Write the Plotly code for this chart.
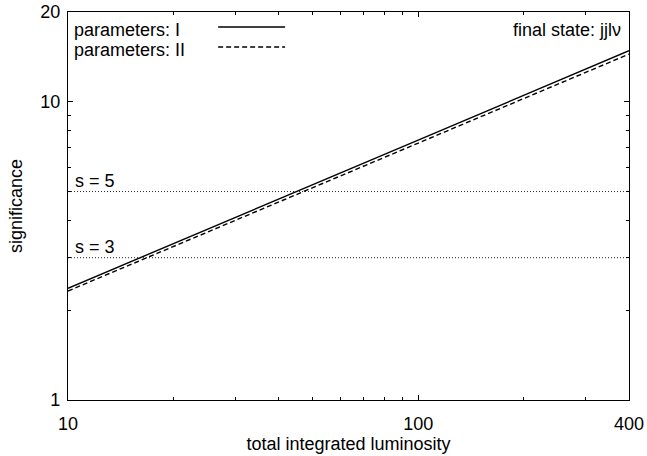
import plotly.graph_objects as go
import math

# ---- data ----
luminosity = [10, 20, 50, 100, 200, 400]
sig_I = [2.37, 3.35, 5.27, 7.44, 10.50, 14.83]
sig_II = [2.32, 3.27, 5.15, 7.26, 10.25, 14.45]
thresholds = [5, 3]
threshold_labels = ["s = 5", "s = 3"]
series_names = ["parameters: I", "parameters: II"]
x_tickvals = [10, 100, 400]
x_ticktext = ["10", "100", "400"]
x_minor = [20, 30, 40, 50, 60, 70, 80, 90, 200, 300]
y_tickvals = [1, 10, 20]
y_ticktext = ["1", "10", "20"]
y_minor = [2, 3, 4, 5, 6, 7, 8, 9]
x_title = "total integrated luminosity"
y_title = "significance"
corner_label = "final state: jjlν"

FONT = "Liberation Sans, Arial, Helvetica, sans-serif"
FS = 18

fig = go.Figure()

# threshold dotted lines
for t in thresholds:
    fig.add_trace(go.Scatter(
        x=[luminosity[0], luminosity[-1]], y=[t, t], mode="lines",
        line=dict(color="#222222", width=1, dash="1px,2px"),
        showlegend=False, hoverinfo="skip"))

fig.add_trace(go.Scatter(x=luminosity, y=sig_I, mode="lines", name=series_names[0],
                         line=dict(color="black", width=1.4), showlegend=False))
fig.add_trace(go.Scatter(x=luminosity, y=sig_II, mode="lines", name=series_names[1],
                         line=dict(color="black", width=1.4, dash="5px,3px"), showlegend=False))

annotations = []
for t, lab in zip(thresholds, threshold_labels):
    annotations.append(dict(x=math.log10(luminosity[0]), y=math.log10(t), xref="x", yref="y",
                            text=lab, showarrow=False, xanchor="left", yanchor="bottom",
                            xshift=5, yshift=-1, font=dict(family=FONT, size=FS, color="black")))

# legend (gnuplot-style: text left, sample right)
leg_text_y = [0.9544, 0.9029]
leg_line_y = [0.9614, 0.9098]
for name, ty in zip(series_names, leg_text_y):
    annotations.append(dict(x=0.008, y=ty, xref="paper", yref="paper", text=name,
                            showarrow=False, xanchor="left", yanchor="middle",
                            font=dict(family=FONT, size=FS, color="black")))
annotations.append(dict(x=0.99, y=0.9531, xref="paper", yref="paper", text=corner_label,
                        showarrow=False, xanchor="right", yanchor="middle",
                        font=dict(family=FONT, size=FS, color="black")))

shapes = [
    dict(type="line", xref="paper", yref="paper", x0=0.2676, x1=0.387, y0=leg_line_y[0], y1=leg_line_y[0],
         line=dict(color="black", width=1.4)),
    dict(type="line", xref="paper", yref="paper", x0=0.2676, x1=0.387, y0=leg_line_y[1], y1=leg_line_y[1],
         line=dict(color="black", width=1.4, dash="5px,3px")),
]

axis_common = dict(showgrid=False, zeroline=False, showline=True, linecolor="black", linewidth=1.3,
                   mirror="allticks", ticks="inside", ticklen=5, tickwidth=1, tickcolor="black",
                   tickfont=dict(family=FONT, size=FS, color="black"))

fig.update_xaxes(type="log", range=[math.log10(10), math.log10(400)],
                 tickmode="array", tickvals=x_tickvals, ticktext=x_ticktext,
                 minor=dict(tickmode="array", tickvals=x_minor, ticks="inside", ticklen=3,
                            tickcolor="black", showgrid=False),
                 title=dict(text=x_title, font=dict(family=FONT, size=FS, color="black"), standoff=2),
                 ticklabelstandoff=7, **axis_common)
fig.update_yaxes(type="log", range=[0, math.log10(20)],
                 tickmode="array", tickvals=y_tickvals, ticktext=y_ticktext,
                 minor=dict(tickmode="array", tickvals=y_minor, ticks="inside", ticklen=3,
                            tickcolor="black", showgrid=False),
                 title=dict(text=y_title, font=dict(family=FONT, size=FS, color="black"), standoff=12),
                 ticklabelstandoff=3, **axis_common)

fig.update_layout(width=647, height=456, margin=dict(l=68, r=18, t=12, b=56, autoexpand=False),
                  plot_bgcolor="white", paper_bgcolor="white", showlegend=False,
                  annotations=annotations, shapes=shapes,
                  font=dict(family=FONT, size=FS, color="black"))

fig.write_html("out.html", config={"displayModeBar": False},
               post_script="document.body.style.margin='0';document.body.style.padding='0';")
